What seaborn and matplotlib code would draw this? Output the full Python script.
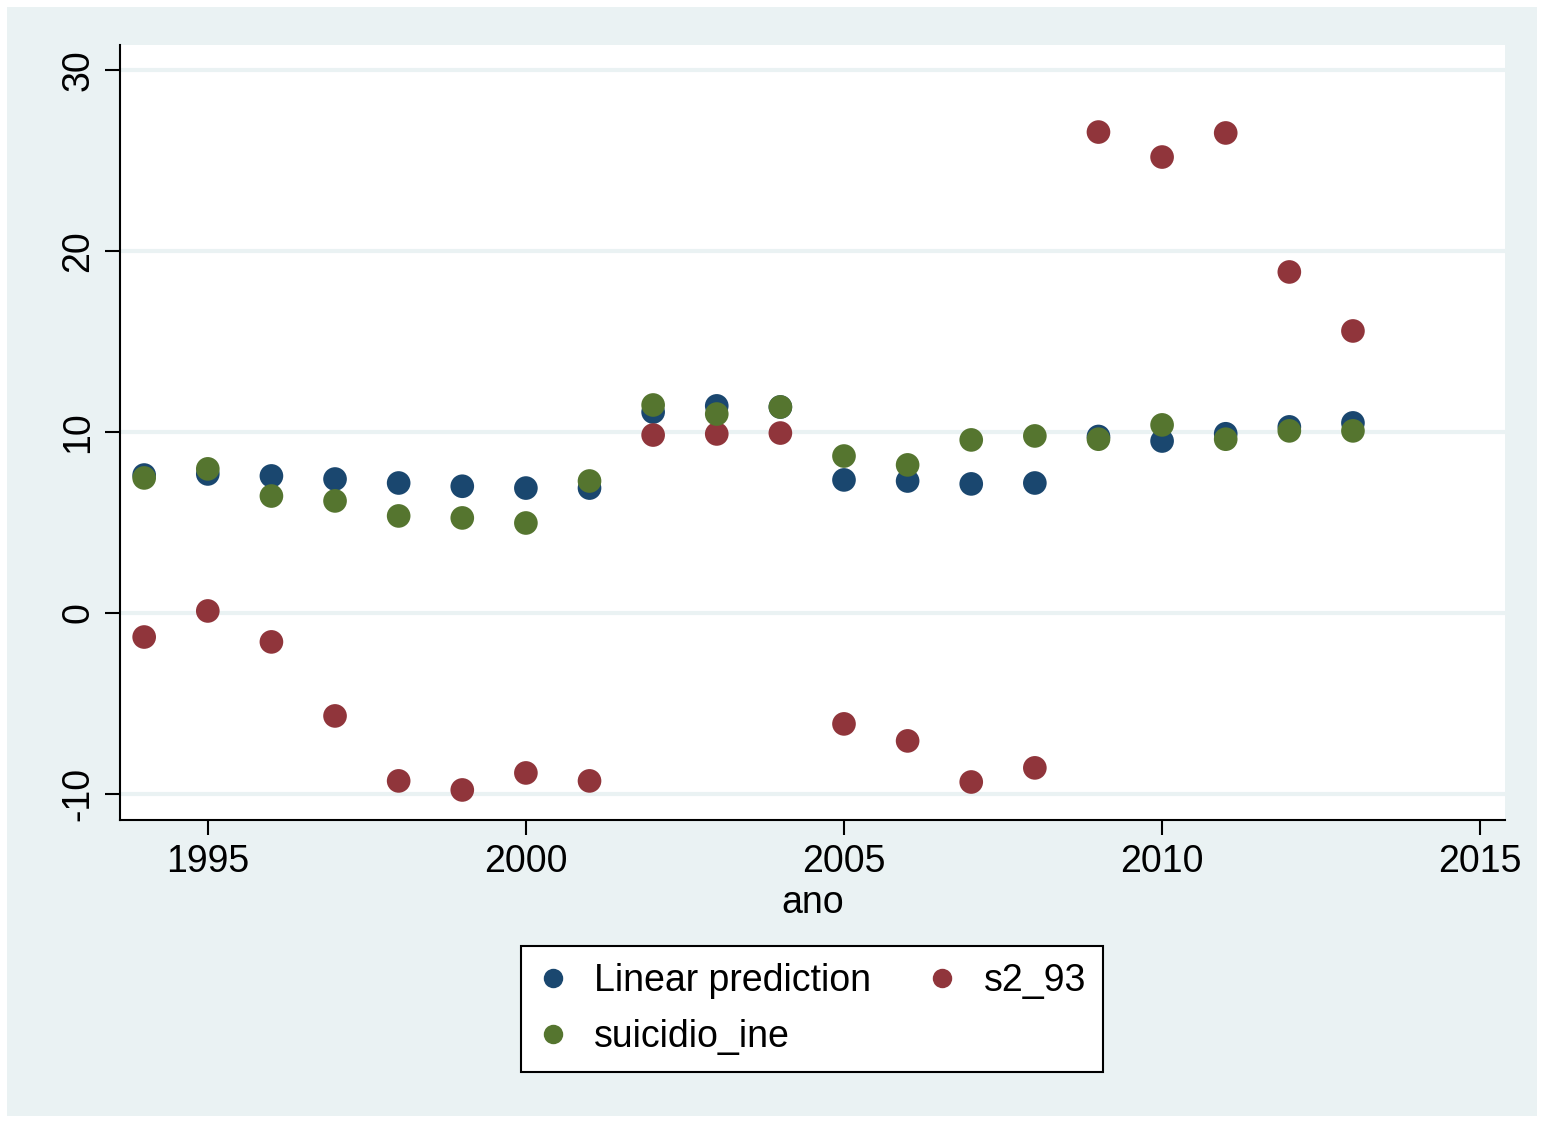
import pandas as pd
import matplotlib.pyplot as plt
import matplotlib.patches as mpatches
from matplotlib.lines import Line2D
import seaborn as sns

ano = list(range(1994, 2014))

linear_prediction = [7.62, 7.68, 7.57, 7.40, 7.18, 7.00, 6.90, 6.90, 11.10, 11.44,
                     11.38, 7.35, 7.29, 7.13, 7.18, 9.75, 9.50, 9.90, 10.28, 10.50]
s2_93 = [-1.33, 0.11, -1.60, -5.69, -9.28, -9.78, -8.84, -9.28, 9.83, 9.89,
         9.94, -6.13, -7.07, -9.34, -8.56, 26.57, 25.19, 26.52, 18.84, 15.58]
suicidio_ine = [7.46, 7.96, 6.46, 6.19, 5.36, 5.25, 4.97, 7.29, 11.49, 10.99,
                11.38, 8.67, 8.18, 9.56, 9.78, 9.60, 10.39, 9.60, 10.06, 10.06]

series_names = ['Linear prediction', 's2_93', 'suicidio_ine']
colors = {'Linear prediction': '#1A476F', 's2_93': '#90353B', 'suicidio_ine': '#55752F'}

df = pd.DataFrame({'ano': ano,
                   'Linear prediction': linear_prediction,
                   's2_93': s2_93,
                   'suicidio_ine': suicidio_ine})
df_long = df.melt(id_vars='ano', var_name='serie', value_name='valor')

sns.set_style('white')
plt.rcParams['font.family'] = ['Liberation Sans', 'DejaVu Sans']
plt.rcParams['axes.unicode_minus'] = False
plt.rcParams['text.color'] = 'black'
plt.rcParams['axes.labelcolor'] = 'black'
plt.rcParams['xtick.color'] = 'black'
plt.rcParams['ytick.color'] = 'black'

fig = plt.figure(figsize=(15.44, 11.23), dpi=100, facecolor='white')
fig.patches.append(mpatches.Rectangle((7 / 1544, 7 / 1123), 1 - 14 / 1544, 1 - 14 / 1123,
                                      transform=fig.transFigure, facecolor='#EAF2F3',
                                      edgecolor='none', zorder=-10))

ax = fig.add_axes([120 / 1544, 1 - 820 / 1123, (1505 - 120) / 1544, (820 - 45) / 1123])
ax.set_facecolor('white')

sns.scatterplot(data=df_long, x='ano', y='valor', hue='serie', hue_order=series_names,
                palette=colors, s=290, edgecolor='none', legend=False, ax=ax, zorder=3)

ax.set_xlim(1993.62, 2015.39)
ax.set_ylim(-11.44, 31.38)
ax.set_xticks([1995, 2000, 2005, 2010, 2015])
ax.set_yticks([-10, 0, 10, 20, 30])
ax.yaxis.grid(True, color='#EAF2F3', linewidth=3)
ax.xaxis.grid(False)

for side in ['top', 'right']:
    ax.spines[side].set_visible(False)
for side in ['left', 'bottom']:
    ax.spines[side].set_color('black')
    ax.spines[side].set_linewidth(1.5)

ax.tick_params(axis='both', which='major', length=11, width=1.5, color='black',
               labelsize=27, pad=6, left=True, bottom=True)
for lbl in ax.get_yticklabels():
    lbl.set_rotation(90)
    lbl.set_va('center')

ax.set_xlabel('ano', fontsize=27, labelpad=4)
ax.set_ylabel('')

# matplotlib fills legend columns first; reorder so rows read like the original
legend_order = ['Linear prediction', 'suicidio_ine', 's2_93']
handles = [Line2D([0], [0], marker='o', linestyle='none', markersize=14,
                  markerfacecolor=colors[n], markeredgecolor='none') for n in legend_order]
leg = fig.legend(handles, legend_order, loc='center', bbox_to_anchor=(812 / 1544, 1 - 1009 / 1123),
                 ncol=2, fontsize=27, frameon=True, fancybox=False, handletextpad=0.7,
                 columnspacing=1.5, borderpad=0.45, labelspacing=0.55, handlelength=0.8)
leg.get_frame().set_edgecolor('black')
leg.get_frame().set_linewidth(1.5)
leg.get_frame().set_facecolor('white')
leg.get_frame().set_alpha(1)

fig.savefig('out.png', dpi=100, facecolor='white')
